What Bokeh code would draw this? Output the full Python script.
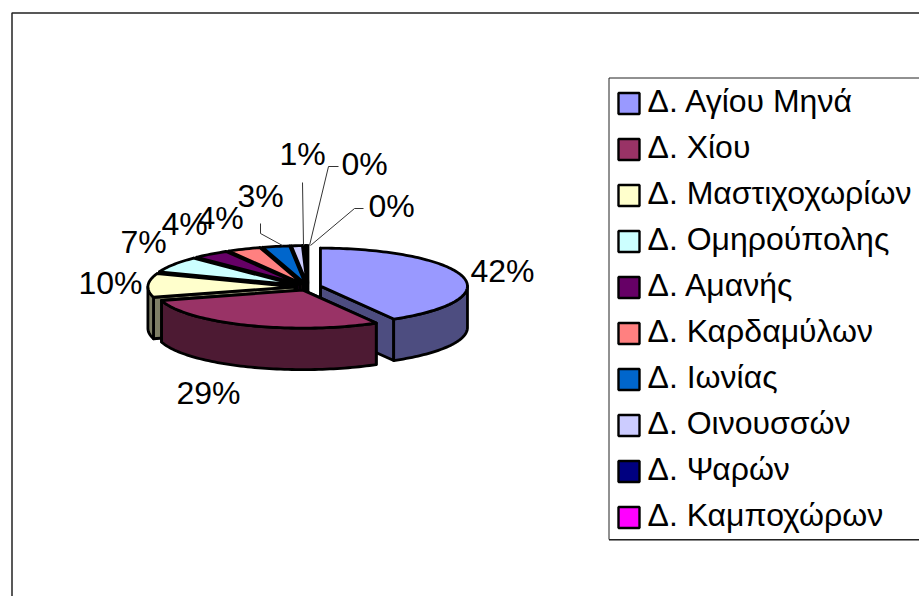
import math
from bokeh.plotting import figure
from bokeh.models import Range1d
from bokeh.core.properties import value
from bokeh.embed import file_html
from bokeh.resources import INLINE

categories = ["Δ. Αγίου Μηνά", "Δ. Χίου", "Δ. Μαστιχοχωρίων", "Δ. Ομηρούπολης", "Δ. Αμανής",
              "Δ. Καρδαμύλων", "Δ. Ιωνίας", "Δ. Οινουσσών", "Δ. Ψαρών", "Δ. Καμποχώρων"]
shares = [41.7, 28.9, 10.1, 6.9, 4.0, 3.7, 3.0, 1.2, 0.3, 0.2]
colors = ["#9999FF", "#993366", "#FFFFCC", "#CCFFFF", "#660066",
          "#FF8080", "#0066CC", "#CCCCFF", "#000080", "#FF00FF"]
sides = ["#4D4D80", "#4D1A33", "#808066", "#668080", "#330033",
         "#804040", "#003366", "#666680", "#000040", "#800080"]

# layout (page pixels)
CX, CY, A, B, DEPTH, EXPLODE = 307.4, 286.5, 147, 38, 41.5, 13
label_x = [502, 208, 110, 143, 184, 220, 260, 302, 364, 391]
label_y = [270, 392, 282, 241, 223, 217, 195, 153, 163, 205]
leaders = [[], [], [], [], [], [],
           [(260, 223), (260, 233), (282, 245)],
           [(302, 182), (303, 245)],
           [(338, 166), (328, 166), (309, 245)],
           [(363, 208), (354, 208), (310, 245)]]

p = figure(width=919, height=596, output_backend="svg", toolbar_location=None,
           x_range=Range1d(0, 919), y_range=Range1d(596, 0), min_border=0,
           background_fill_color="white", border_fill_color="white")
p.axis.visible = False
p.grid.visible = False
p.outline_line_color = None

# chart frame
p.line([11.5, 11.5, 919], [596, 12.5, 12.5], line_color="#222222", line_width=1.5)

total = sum(shares)
spans = []
acc = 0.0
for v in shares:
    spans.append((acc / total * 360, (acc + v) / total * 360))
    acc += v


def pt(cx, cy, ang):
    r = math.radians(ang)
    return cx + A * math.sin(r), cy - B * math.cos(r)


def arc(cx, cy, a0, a1):
    n = max(2, int(abs(a1 - a0) / 1.5) + 2)
    return [pt(cx, cy, a0 + (a1 - a0) * i / (n - 1)) for i in range(n)]


def poly(points, fill):
    p.patch([q[0] for q in points], [q[1] for q in points], fill_color=fill,
            line_color="black", line_width=2.8, line_join="round")


def draw(i):
    a0, a1 = spans[i]
    mid = math.radians((a0 + a1) / 2)
    cx = CX + EXPLODE * math.sin(mid)
    cy = CY - EXPLODE * B / A * math.cos(mid)
    for ang in (a1, a0):
        e = pt(cx, cy, ang)
        poly([(cx, cy), e, (e[0], e[1] + DEPTH), (cx, cy + DEPTH)], sides[i])
    lo, hi = max(a0, 90), min(a1, 270)
    if lo < hi:
        rim = arc(cx, cy, lo, hi)
        poly(rim + [(x, y + DEPTH) for x, y in reversed(rim)], sides[i])
    poly([(cx, cy)] + arc(cx, cy, a0, a1), colors[i])


for i in [9, 8, 7, 6, 5, 4, 3, 2, 0, 1]:
    draw(i)

# leader lines
for seg in leaders:
    if seg:
        p.line([q[0] for q in seg], [q[1] for q in seg], line_color="#333333", line_width=1)

# percentage labels
p.text(label_x, label_y, text=[f"{round(v)}%" for v in shares], text_font=value("Liberation Sans"),
       text_font_size="32px", text_color="black", text_align="center", text_baseline="middle")

# legend
LEFT, TOP, BOTTOM = 608.5, 77.5, 539
ys = [103 + 46 * i for i in range(len(categories))]
p.line([919, LEFT, LEFT, 919], [TOP, TOP, BOTTOM, BOTTOM], line_color="#222222", line_width=1)
p.line([LEFT, 919], [BOTTOM + 1, BOTTOM + 1], line_color="#888888", line_width=1)
p.rect([628.5] * len(ys), ys, width=21, height=21, fill_color=colors, line_color="black", line_width=2.4)
p.text([647] * len(ys), [y - 2.5 for y in ys], text=categories, text_font=value("Liberation Sans"),
       text_font_size="32px", text_color="black", text_align="left", text_baseline="middle")

open("out.html", "w").write(file_html(p, INLINE))
